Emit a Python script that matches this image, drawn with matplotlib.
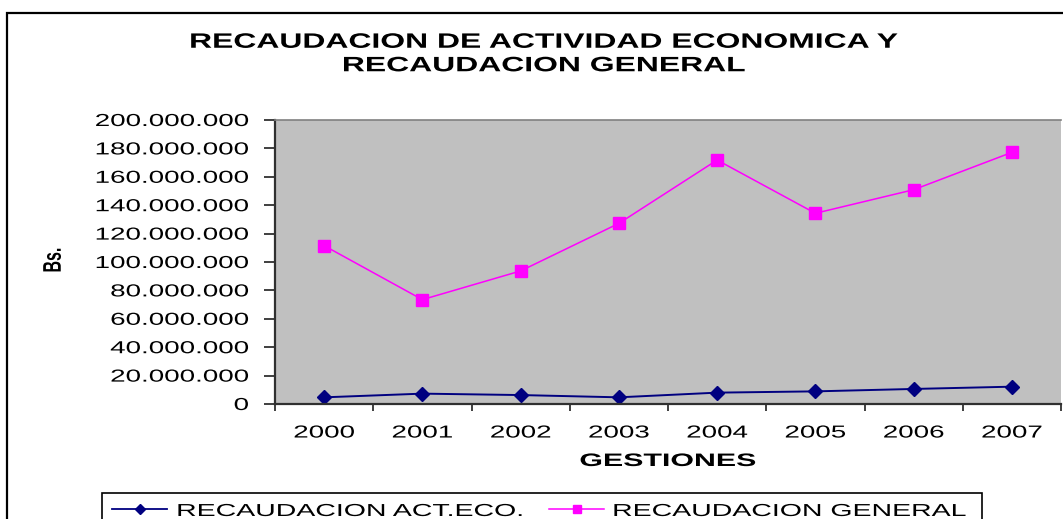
import matplotlib
matplotlib.use("Agg")
import matplotlib.pyplot as plt
from matplotlib.patches import Rectangle
from matplotlib.lines import Line2D
from matplotlib.ticker import FuncFormatter, FixedLocator
from matplotlib.patheffects import AbstractPathEffect
from matplotlib.transforms import Affine2D

years = ["2000", "2001", "2002", "2003", "2004", "2005", "2006", "2007"]
act_eco = [4.7e6, 7.3e6, 6.3e6, 4.7e6, 8.0e6, 8.9e6, 10.6e6, 12.2e6]
general = [111.5e6, 73.5e6, 93.7e6, 127.2e6, 171.8e6, 134.3e6, 150.9e6, 177.2e6]
label_act = "RECAUDACION ACT.ECO."
label_gen = "RECAUDACION GENERAL"

plt.rcParams['font.family'] = ['Liberation Sans', 'DejaVu Sans']


class StretchX(AbstractPathEffect):
    """Draw text glyphs stretched horizontally (in display x) about an anchor."""
    def __init__(self, sx=1.6, anchor='center'):
        super().__init__()
        self.sx = sx
        self.anchor = anchor

    def draw_path(self, renderer, gc, tpath, affine, rgbFace=None):
        ext = tpath.get_extents(affine)
        if self.anchor == 'left':
            a = ext.x0
        elif self.anchor == 'right':
            a = ext.x1
        else:
            a = 0.5 * (ext.x0 + ext.x1)
        new = affine + Affine2D().translate(-a, 0).scale(self.sx, 1).translate(a, 0)
        renderer.draw_path(gc, tpath, new, rgbFace)


W, H = 1063, 519
fig = plt.figure(figsize=(W / 100, H / 100), dpi=100)
fig.patch.set_facecolor('white')

ax = fig.add_axes([275 / W, 1 - 404 / H, (1061 - 275) / W, (404 - 120) / H])
ax.set_facecolor('#C0C0C0')

x = list(range(len(years)))
ax.plot(x, act_eco, color='#000080', marker='D', markersize=7.5, linewidth=1.4)
ax.plot(x, general, color='#FF00FF', marker='s', markersize=8, linewidth=1.1)

ax.set_xlim(-0.5, len(years) - 0.5)
ax.set_ylim(0, 200e6)
ax.yaxis.set_major_locator(FixedLocator([i * 20e6 for i in range(11)]))
ax.yaxis.set_major_formatter(FuncFormatter(lambda v, p: f"{int(round(v)):,}".replace(",", ".")))

ax.set_xticks([i - 0.5 for i in range(len(years) + 1)])
ax.set_xticklabels([])
ax.set_xticks(x, minor=True)
ax.set_xticklabels(years, minor=True)
ax.tick_params(axis='x', which='minor', length=0, pad=15.5, labelsize=12.5)
ax.tick_params(axis='x', which='major', length=5, width=1.3, color='#303030', direction='out')
ax.tick_params(axis='y', length=8, width=1.3, color='#303030', direction='out',
               labelsize=12.5, pad=11)

for lab in ax.get_yticklabels():
    lab.set_path_effects([StretchX(1.6, 'right')])
for lab in ax.get_xticklabels(minor=True):
    lab.set_path_effects([StretchX(1.6, 'center')])

for s in ['left', 'bottom']:
    ax.spines[s].set_color('#303030')
    ax.spines[s].set_linewidth(1.6)
ax.spines['top'].set_color('#808080')
ax.spines['top'].set_linewidth(1.2)
ax.spines['right'].set_visible(False)

title = fig.text(544 / W, 1 - 54 / H, "RECAUDACION DE ACTIVIDAD ECONOMICA Y\nRECAUDACION GENERAL",
                 ha='center', va='center', fontsize=15, fontweight='bold', linespacing=1.3)
title.set_path_effects([StretchX(1.53, 'center')])

ylab = fig.text(53 / W, 1 - 260 / H, "Bs.", rotation=90, ha='center', va='center',
                fontsize=11.5, fontweight='bold')
ylab.set_path_effects([StretchX(1.6, 'center')])

xlab = fig.text(668 / W, 1 - 461.5 / H, "GESTIONES", ha='center', va='center',
                fontsize=13, fontweight='bold')
xlab.set_path_effects([StretchX(1.68, 'center')])

# outer chart-area frame (cropped at right and bottom in the reference)
fig.patches.append(Rectangle((7 / W, -0.2), 1.5, 1 - 12.7 / H + 0.2, transform=fig.transFigure,
                             fill=False, edgecolor='black', linewidth=1.6))

# legend (drawn by hand so the stretched text fits its box)
fig.patches.append(Rectangle((102 / W, -0.2), (982 - 102) / W, 1 - 493 / H + 0.2,
                             transform=fig.transFigure, fill=False, edgecolor='black',
                             linewidth=1.2))
ly = 1 - 509 / H
fig.add_artist(Line2D([112 / W, 167 / W], [ly, ly], transform=fig.transFigure,
                      color='#000080', linewidth=1.3))
fig.add_artist(Line2D([139.5 / W], [ly], transform=fig.transFigure, color='#000080',
                      marker='D', markersize=5.5, linestyle='none'))
fig.add_artist(Line2D([549 / W, 604 / W], [ly, ly], transform=fig.transFigure,
                      color='#FF00FF', linewidth=1.1))
fig.add_artist(Line2D([576.5 / W], [ly], transform=fig.transFigure, color='#FF00FF',
                      marker='s', markersize=6, linestyle='none'))
t1 = fig.text(177 / W, 1 - 516 / H, label_act, ha='left', va='baseline', fontsize=12.5)
t2 = fig.text(613 / W, 1 - 516 / H, label_gen, ha='left', va='baseline', fontsize=12.5)
for t in (t1, t2):
    t.set_path_effects([StretchX(1.64, 'left')])

fig.savefig("out.png", dpi=100)
